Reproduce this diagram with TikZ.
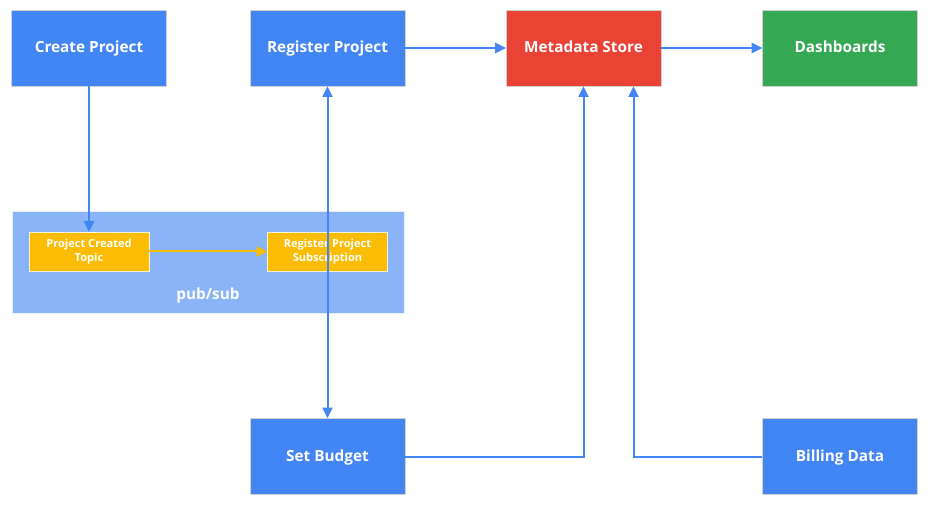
\documentclass[tikz,border=0pt]{standalone}
\usepackage{fontspec}
\setmainfont{Open Sans}
\usetikzlibrary{arrows.meta}

\definecolor{gblue}{HTML}{4285F4}
\definecolor{gred}{HTML}{EA4335}
\definecolor{ggreen}{HTML}{34A853}
\definecolor{gyellow}{HTML}{FBBC04}
\definecolor{glight}{HTML}{8AB4F8}

\tikzset{
  box/.style={draw=gray!35, fill=gblue, text=white, inner sep=0pt,
    minimum width=116pt, minimum height=57pt, text height=0.7em, text depth=0pt,
    font=\fontsize{11.5}{13}\selectfont\bfseries},
  topic/.style={draw=white!85!gyellow, fill=gyellow, text=white, inner sep=0pt,
    minimum width=90pt, minimum height=29pt, align=center,
    font=\fontsize{8.3}{10}\selectfont\bfseries},
  flow/.style={draw=gblue, line width=1.5pt, -{Triangle[length=8pt,width=7.5pt]}},
}

\begin{document}
\begin{tikzpicture}[x=0.75pt,y=-0.75pt]
  \useasboundingbox (0,0) rectangle (937,505);

  \node[draw=white!80!glight, fill=glight, minimum width=294pt, minimum height=76.5pt](PubSub) at (208,262) {};
  \node[text=white, text height=0.7em, text depth=0pt, font=\fontsize{11.5}{13}\selectfont\bfseries](PubSubLbl) at (208,295) {pub/sub};

  \node[box](Create) at (89,48) {Create Project};
  \node[box](Register) at (327.5,48) {Register Project};
  \node[box, fill=gred](Meta) at (583.5,48) {Metadata Store};
  \node[box, fill=ggreen](Dash) at (840,48) {Dashboards};
  \node[topic](Topic) at (89,251.5) {Project Created\\Topic};
  \node[topic](Sub) at (327.5,251.5) {Register Project\\Subscription};
  \node[box](Budget) at (327.5,456.5) {Set Budget};
  \node[box](Billing) at (840,456.5) {Billing Data};

  \draw[flow] (Create) -- (Topic);
  \draw[flow, draw=gyellow] (Topic) -- (Sub);
  \draw[flow, {Triangle[length=8pt,width=7.5pt]}-{Triangle[length=8pt,width=7.5pt]}] (Register) -- (Budget);
  \draw[flow] (Register) -- (Meta);
  \draw[flow] (Meta) -- (Dash);
  \draw[flow] (Budget.east) -| (Meta.south);
  \draw[flow] (Billing.west) -| ([xshift=37.5pt]Meta.south);
\end{tikzpicture}
\end{document}
